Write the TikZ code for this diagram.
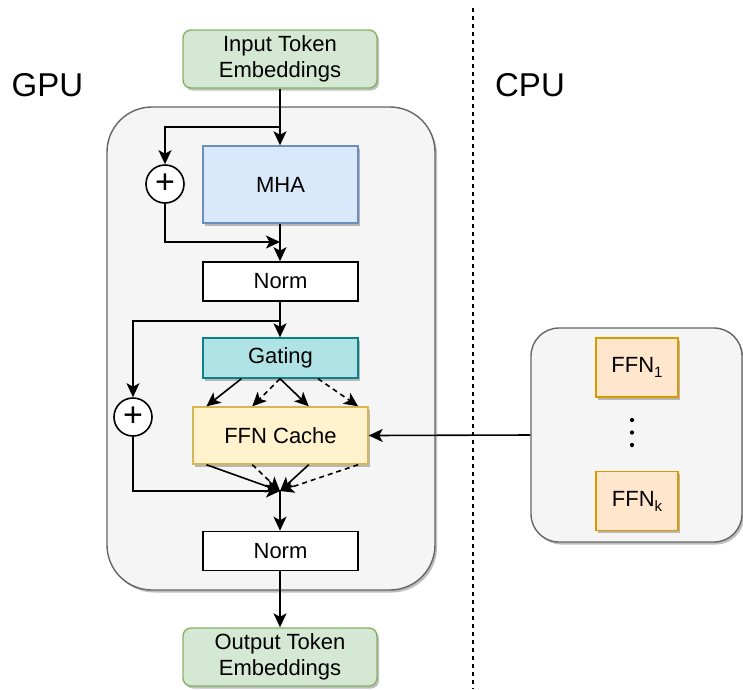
\documentclass[tikz,border=0pt]{standalone}
\usepackage{fontspec}
\setmainfont{Liberation Sans}
\usepackage{tikz}
\usetikzlibrary{calc,arrows.meta,positioning,shadows}
\usepackage{xcolor}
\definecolor{embFill}{HTML}{D5E8D4}
\definecolor{embLine}{HTML}{82B366}
\definecolor{mhaFill}{HTML}{DAE8FC}
\definecolor{mhaLine}{HTML}{6C8EBF}
\definecolor{gateFill}{HTML}{B0E3E6}
\definecolor{gateLine}{HTML}{0E8088}
\definecolor{cacheFill}{HTML}{FFF2CC}
\definecolor{cacheLine}{HTML}{D6B656}
\definecolor{ffnFill}{HTML}{FFE6CC}
\definecolor{ffnLine}{HTML}{D79B00}
\definecolor{devFill}{HTML}{F5F5F5}
\definecolor{devLine}{HTML}{666666}
\newcommand{\ffnsub}[1]{\raisebox{-5pt}{\fontsize{15}{15}\selectfont #1}}

\begin{document}
\begin{tikzpicture}[
  x=1pt,y=-1pt,
  every node/.style={font=\fontsize{22}{26}\selectfont,inner sep=0pt,align=center},
  shade/.style={drop shadow={shadow xshift=2pt,shadow yshift=-2.5pt,opacity=0.25,fill=black}},
  arr/.style={-{Stealth[length=14pt,width=13pt,inset=3.5pt]},line width=1.6pt},
  darr/.style={arr,dash pattern=on 5pt off 4pt},
  emb/.style={draw=embLine,fill=embFill,line width=1.4pt,rounded corners=8pt,minimum width=194pt,minimum height=58pt,shade},
  blk/.style={draw=black,fill=white,line width=1.6pt,minimum width=155pt,minimum height=39pt},
  device/.style={draw=devLine,fill=devFill,line width=1.4pt,shade},
  addop/.style={circle,draw=black,fill=white,line width=1.6pt,minimum size=38pt,font=\fontsize{34}{34}\selectfont},
  ffn/.style={draw=ffnLine,fill=ffnFill,line width=1.4pt,minimum width=82pt,minimum height=59pt,shade},
  side/.style={font=\fontsize{33}{38}\selectfont}
]
  \useasboundingbox (0,0) rectangle (743,689);

  % Device boxes (drawn first, everything sits on top)
  \node[device,rounded corners=45pt,minimum width=328pt,minimum height=483pt] (gpu) at (271,348.5) {};
  \node[device,rounded corners=28pt,minimum width=211pt,minimum height=214pt] (cpu) at (636.5,435) {};

  % GPU / CPU split
  \coordinate (divtop) at (473,8);
  \coordinate (divbot) at (473,689);
  \draw[line width=1.5pt,dash pattern=on 4pt off 4pt] (divtop) -- (divbot);
  \node[side] (gpu_lbl) at (47.5,85) {GPU};
  \node[side] (cpu_lbl) at (530,85) {CPU};

  % Input / output embeddings
  \node[emb] (inemb)  at (280,59)  {Input Token\\Embeddings};
  \node[emb] (outemb) at (280,657) {Output Token\\Embeddings};

  % Attention block
  \node[draw=mhaLine,fill=mhaFill,line width=1.4pt,minimum width=155pt,minimum height=77pt,shade] (mha) at (280.5,184.5) {MHA};
  \node[addop] (add1) at (165,184) {+};
  \node[blk] (norm1) at (280.5,281.5) {Norm};

  % MoE block
  \node[draw=gateLine,fill=gateFill,line width=1.4pt,minimum width=155pt,minimum height=40pt,shade] (gate) at (280.5,358) {Gating};
  \node[draw=cacheLine,fill=cacheFill,line width=1.4pt,minimum width=175pt,minimum height=57pt,shade] (cache) at (280.5,435.5) {FFN Cache};
  \node[addop] (add2) at (133,417) {+};
  \node[blk] (norm2) at (280.5,551) {Norm};

  % Experts kept on the CPU
  \node[ffn] (ffn1) at (637,367.5) {FFN\ffnsub{1}};
  \node[ffn] (ffnk) at (637,501) {FFN\ffnsub{k}};
  \foreach \y in {420,432.5,445} \fill (632,\y) circle (2.1);

  % Split / merge points on the main path
  \coordinate (split1) at (280,127);
  \coordinate (join1)  at (280,242);
  \coordinate (split2) at (280,321);
  \coordinate (merge)  at (280,491);

  % Attention path + residual
  \draw[arr] (inemb.south -| split1) -- (mha.north -| split1);
  \draw[arr] (split1) -| (add1.north);
  \draw[arr] (add1.south) |- (join1);
  \draw[arr] (mha.south -| join1) -- (norm1.north -| join1);

  % Gating path + residual
  \draw[arr] (norm1.south -| split2) -- (gate.north -| split2);
  \draw[arr] (split2) -| (add2.north);
  \draw[arr] (add2.south) |- (merge);

  % Gating -> selected experts (solid = hit, dashed = miss)
  \draw[arr]  ($(gate.south west)!0.25!(gate.south east)$) -- ($(cache.north west)!0.08!(cache.north east)$);
  \draw[darr] (gate.south -| split2) -- ($(cache.north west)!0.34!(cache.north east)$);
  \draw[arr]  (gate.south -| split2) -- ($(cache.north west)!0.66!(cache.north east)$);
  \draw[darr] ($(gate.south west)!0.74!(gate.south east)$) -- ($(cache.north west)!0.94!(cache.north east)$);

  % Expert outputs -> merge
  \draw[arr]  ($(cache.south west)!0.08!(cache.south east)$) -- (merge);
  \draw[darr] ($(cache.south west)!0.34!(cache.south east)$) -- (merge);
  \draw[arr]  ($(cache.south west)!0.66!(cache.south east)$) -- (merge);
  \draw[darr] ($(cache.south west)!0.94!(cache.south east)$) -- (merge);

  \draw[arr] (merge) -- (norm2.north -| merge);
  \draw[arr] (norm2.south -| merge) -- (outemb.north -| merge);

  % CPU -> cache
  \draw[arr] (cpu.west) -- (cache.east);
\end{tikzpicture}
\end{document}
